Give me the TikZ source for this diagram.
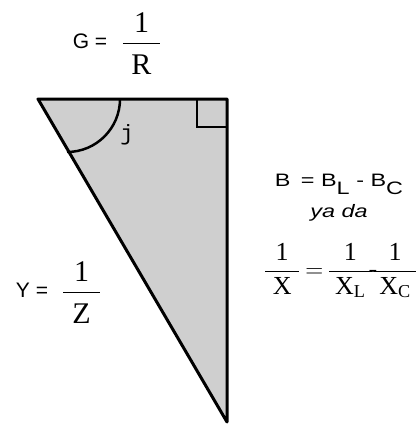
\documentclass[tikz,border=0pt]{standalone}
\usepackage{fontspec}
\setmainfont{Liberation Serif}
\setsansfont{Liberation Sans}
\setmonofont{Liberation Mono}
\usepackage{tikz}

\definecolor{shade}{gray}{0.81}
\newcommand{\widen}[1]{\scalebox{1.3}[1]{#1}}
\newcommand{\padfrac}[3]{\displaystyle\frac{\mathrm{#1}}{\hspace{#3}\mathrm{#2}\hspace{#3}}}
\newcommand{\lowfrac}[3]{\displaystyle\frac{\mathrm{#1}}{\hspace{#3}\raisebox{-8pt}{#2}\hspace{#3}}}
\tikzset{
  sanslbl/.style={font=\sffamily\fontsize{21}{24}\selectfont, inner sep=0pt},
  widelbl/.style={font=\sffamily\fontsize{18}{22}\selectfont, inner sep=0pt},
  fraclbl/.style={font=\fontsize{26}{30}\selectfont, inner sep=0pt, anchor=base},
  bigfrac/.style={font=\fontsize{30}{34}\selectfont, inner sep=0pt, anchor=base},
}

\begin{document}
\begin{tikzpicture}[x=1pt, y=-1pt]
  \useasboundingbox (0,0) rectangle (419,428);
  % triangle
  \coordinate (A) at (38,99);
  \coordinate (B) at (227,99);
  \coordinate (C) at (227,422);
  \draw[line width=3pt, fill=shade, line join=round] (A) -- (B) -- (C) -- cycle;
  % right angle and angle j
  \draw[line width=2pt] (197,100) -- (197,127) -- (226,127);
  \draw[line width=2.5pt] (120,99) arc[start angle=0, end angle=90, radius=53];
  \node[font=\ttfamily\fontsize{22}{24}\selectfont, inner sep=0pt] (j) at (127,135) {j};
  % conductance and admittance
  \node[sanslbl] (Glbl) at (90,41) {G =};
  \node[bigfrac] (Gfrac) at (141.5,49.5) {$\lowfrac{1}{R}{8.5pt}$};
  \node[sanslbl] (Ylbl) at (32,290) {Y =};
  \node[bigfrac] (Yfrac) at (81.5,298) {$\lowfrac{1}{Z}{9.3pt}$};
  % susceptance
  \node[widelbl] (Blbl) at (339,184) {\widen{B\hspace{3pt} = B\raisebox{-8pt}{L} - B\raisebox{-8pt}{C}}};
  \node[widelbl, font=\sffamily\itshape\fontsize{18}{22}\selectfont] (yada) at (339,213) {\widen{ya da}};
  \node[fraclbl] (Xeq) at (340.5,277) {$\padfrac{1}{X}{7.6pt}\mskip-1.5mu\mathrel{=}\mskip-1.5mu\padfrac{1}{X_{\mathrm{L}}}{6pt}\!\mathord{\mbox{-}}\!\padfrac{1}{X_{\mathrm{C}}}{5pt}$};
\end{tikzpicture}
\end{document}
